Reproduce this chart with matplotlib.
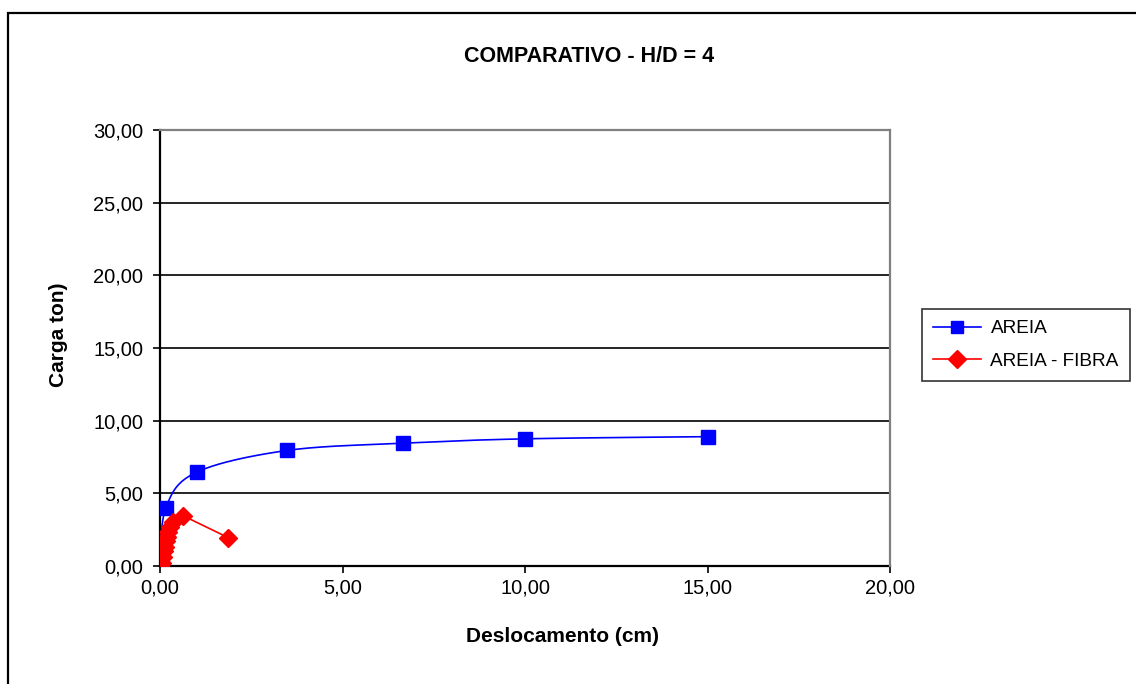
import numpy as np
import matplotlib
matplotlib.use("Agg")
import matplotlib.pyplot as plt
from matplotlib.ticker import FuncFormatter, MultipleLocator
from matplotlib.patches import Rectangle

# Load-displacement data
areia_x = [0.0, 0.16, 1.0, 3.48, 6.66, 10.0, 15.0]
areia_y = [0.0, 4.0, 6.45, 7.95, 8.45, 8.75, 8.9]

fibra_x = [0.0, 0.05, 0.09, 0.11, 0.14, 0.16, 0.20, 0.23, 0.27, 0.36, 0.64, 1.87]
fibra_y = [0.0, 0.2, 0.65, 1.0, 1.3, 1.7, 2.0, 2.35, 2.7, 3.0, 3.45, 1.95]

series_names = ["AREIA", "AREIA - FIBRA"]
title = "COMPARATIVO - H/D = 4"
xlabel = "Deslocamento (cm)"
ylabel = "Carga ton)"

plt.rcParams["font.family"] = ["Liberation Sans", "DejaVu Sans"]

W, H = 1136, 684


def smooth(xs, ys, n=40):
    """Cubic Bezier smoothing through every point (Catmull-Rom style)."""
    P = np.column_stack([xs, ys]).astype(float)
    out = [P[0]]
    m = len(P)
    for i in range(m - 1):
        p0 = P[i - 1] if i > 0 else P[i]
        p1 = P[i]
        p2 = P[i + 1]
        p3 = P[i + 2] if i + 2 < m else P[i + 1]
        c1 = p1 + (p2 - p0) / 6.0
        c2 = p2 - (p3 - p1) / 6.0
        t = np.linspace(0, 1, n)[1:, None]
        seg = ((1 - t) ** 3) * p1 + 3 * ((1 - t) ** 2) * t * c1 + 3 * (1 - t) * t ** 2 * c2 + t ** 3 * p2
        out.extend(seg)
    out = np.array(out)
    return out[:, 0], out[:, 1]


fig = plt.figure(figsize=(W / 100, H / 100), dpi=100)
fig.patches.append(Rectangle((8 / W, -0.1), 1.2, (H - 13) / H + 0.1,
                             transform=fig.transFigure, fill=False,
                             edgecolor="black", linewidth=1.6, zorder=0))

ax = fig.add_axes([160 / W, 1 - 566 / H, 730 / W, 436 / H])

sx, sy = smooth(areia_x, areia_y)
ax.plot(sx, sy, color="#0000FF", lw=1.2, zorder=3)
ax.plot(areia_x, areia_y, ls="none", marker="s", ms=10, color="#0000FF", zorder=4)
ax.plot([], [], color="#0000FF", lw=1.2, marker="s", ms=8.5, label=series_names[0])

ax.plot(fibra_x, fibra_y, color="#FF0000", lw=1.2, marker="D", ms=9.5,
        zorder=5, label=series_names[1])

ax.set_xlim(0, 20)
ax.set_ylim(0, 30)
ax.xaxis.set_major_locator(MultipleLocator(5))
ax.yaxis.set_major_locator(MultipleLocator(5))
fmt = FuncFormatter(lambda v, p: f"{v:.2f}".replace(".", ","))
ax.xaxis.set_major_formatter(fmt)
ax.yaxis.set_major_formatter(fmt)

ax.yaxis.grid(True, color="black", lw=1.2, zorder=1)
ax.set_axisbelow(True)
for s in ["top", "right"]:
    ax.spines[s].set_color("#808080")
    ax.spines[s].set_linewidth(1.6)
for s in ["left", "bottom"]:
    ax.spines[s].set_color("black")
    ax.spines[s].set_linewidth(1.6)
    ax.spines[s].set_zorder(2)

ax.tick_params(axis="both", direction="out", length=5, width=1.2,
               labelsize=14.5, colors="black")
ax.tick_params(axis="y", pad=7)
ax.tick_params(axis="x", pad=4)

fig.text(589 / W, 1 - 57 / H, title, fontsize=15.5, fontweight="bold",
         ha="center", va="center")
fig.text(563 / W, 1 - 636 / H, xlabel, fontsize=15, fontweight="bold",
         ha="center", va="center")
fig.text(58 / W, 1 - 335 / H, ylabel, fontsize=15, fontweight="bold",
         ha="center", va="center", rotation=90)

leg = ax.legend(loc="center left", bbox_to_anchor=(922 / W, 1 - 345 / H),
                bbox_transform=fig.transFigure, fontsize=13.7, frameon=True,
                fancybox=False, edgecolor="black", borderpad=0.6,
                borderaxespad=0, handlelength=2.5, labelspacing=0.8,
                handletextpad=0.5)
leg.get_frame().set_linewidth(1.2)

fig.savefig("out.png", dpi=100)
